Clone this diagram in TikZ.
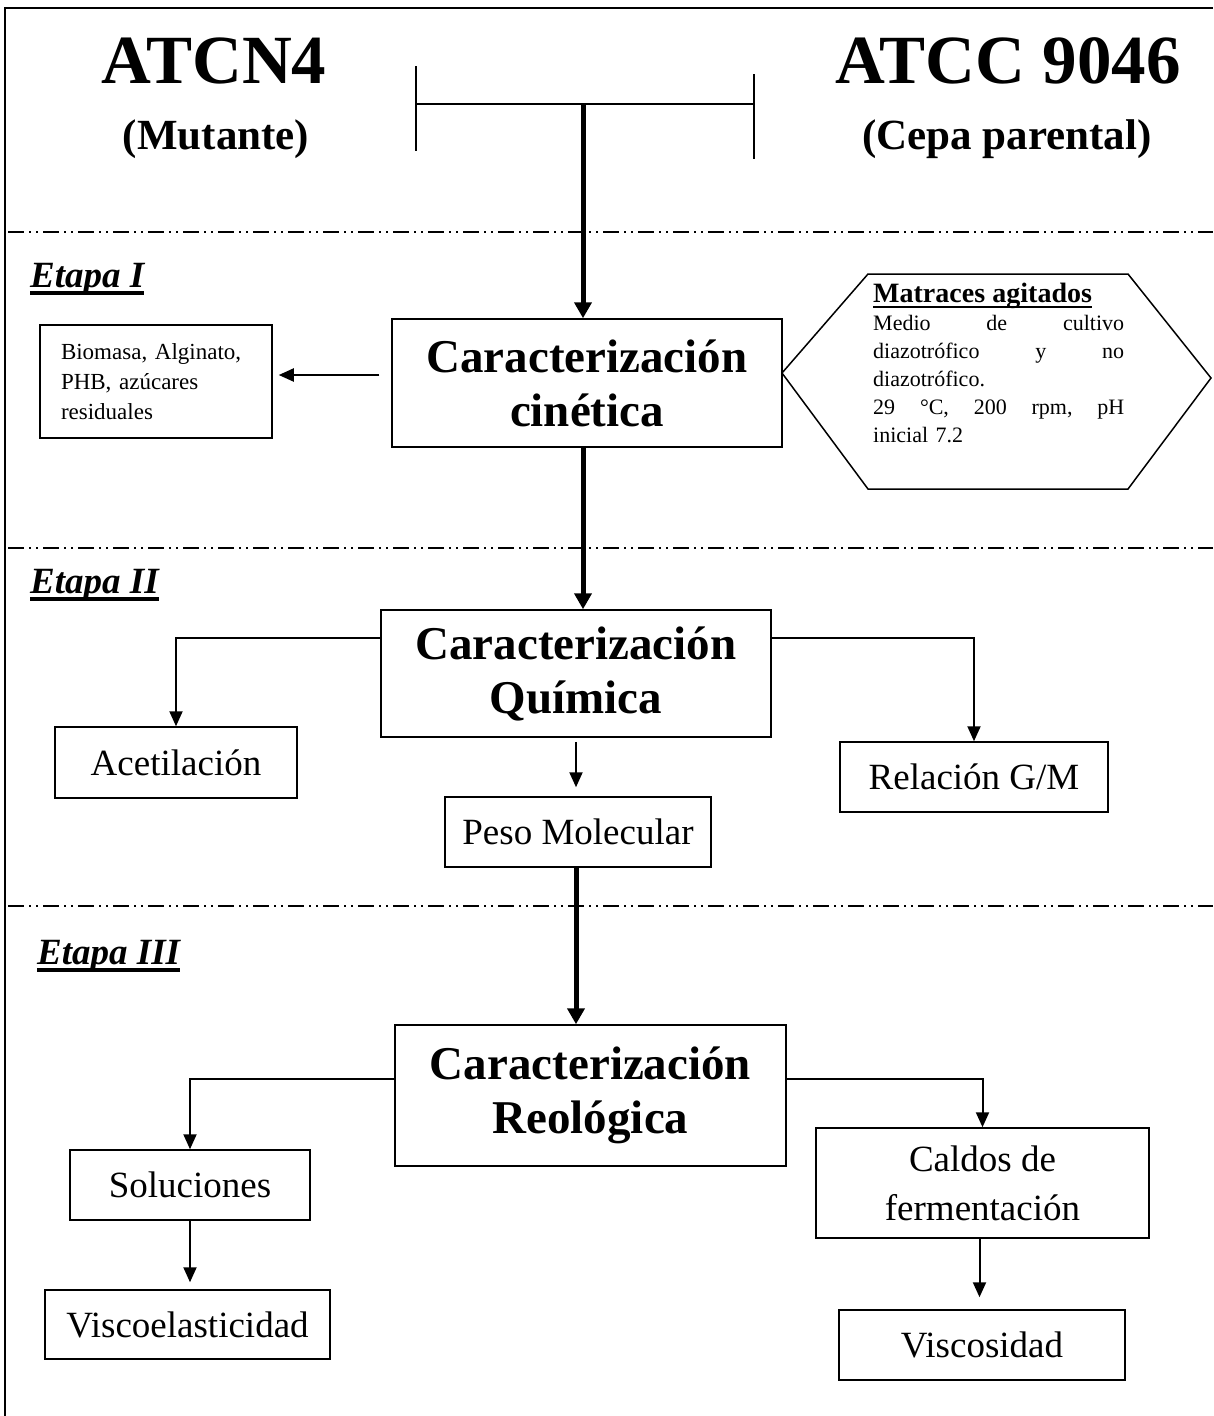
\documentclass[tikz,border=0pt]{standalone}
\usepackage{fontspec}
\setmainfont{Liberation Serif}
\usetikzlibrary{arrows.meta}
\newsavebox{\ulsave}
\newcommand{\ulword}[3]{\sbox\ulsave{#3}\rlap{\rule[-#1]{\wd\ulsave}{#2}}\usebox\ulsave}
\tikzset{
  box/.style={draw, line width=1.5pt, inner sep=0pt, align=center},
  boxTitle/.style={box, font=\fontsize{47}{54}\selectfont\bfseries},
  boxText/.style={box, font=\fontsize{37}{49}\selectfont},
  strain/.style={font=\fontsize{69}{69}\selectfont\bfseries, anchor=base},
  strainSub/.style={font=\fontsize{43}{43}\selectfont\bfseries, anchor=base},
  stage/.style={font=\fontsize{37}{37}\selectfont\bfseries\itshape, anchor=base west, inner sep=0pt},
  sepline/.style={line width=2pt, dash pattern=on 16pt off 5pt on 2pt off 5pt on 2pt off 5pt},
  thkarrow/.style={line width=5pt, -{Triangle[length=16pt,width=17pt]}},
  thnarrow/.style={line width=2pt, -{Triangle[length=15pt,width=13pt]}},
}
\begin{document}
\begin{tikzpicture}[x=1pt,y=-1pt]
\useasboundingbox (0,0) rectangle (1213,1416);

% frame and stage separators
\draw[line width=2pt] (5,1416) -- (5,8) -- (1213,8);
\foreach \yy in {232,548,906}
  \draw[sepline] (8,\yy) -- (1213,\yy);

% strains
\node[strain] (mut) at (214,83) {ATCN4};
\node[strainSub] at (216,149) {(Mutante)};
\node[strain] (par) at (1008,83) {ATCC 9046};
\node[strainSub] at (1007,149) {(Cepa parental)};

\draw[line width=1.5pt] (416,66) -- (416,151);
\draw[line width=1.5pt] (754,74) -- (754,159);
\draw[line width=1.5pt] (416,104) -- (754,104);
\coordinate (tjoin) at (583,104);

% stages
\node[stage] (e1) at (30,287) {\ulword{8pt}{4pt}{Etapa I}};
\node[stage] (e2) at (30,593) {\ulword{8pt}{4pt}{Etapa II}};
\node[stage] (e3) at (37,964) {\ulword{8pt}{4pt}{Etapa III}};

% ===== Etapa I =====
\node[boxTitle, minimum width=390pt, minimum height=128pt] (cin) at (587,383)
  {Caracterización\\cinética};
\node[box, minimum width=232pt, minimum height=113pt, text width=190pt, align=left,
      font=\fontsize{23}{30}\selectfont] (biom) at (156,381.5)
  {Biomasa, Alginato,\\PHB, azúcares\\residuales};

\draw[line width=1.5pt] (782,373) -- (868,274) -- (1128,274) -- (1211,378)
  -- (1128,489) -- (868,489) -- cycle;
\node[anchor=north west, inner sep=0pt, text width=251pt, align=left,
      font=\fontsize{22}{28}\selectfont] (cond) at (873,283)
  {{\fontsize{28}{26}\selectfont\bfseries\ulword{5pt}{2pt}{Matraces agitados}}\\
   Medio\hfill de\hfill cultivo\\
   diazotrófico\hfill y\hfill no\\
   diazotrófico.\\
   29\hfill °C,\hfill 200\hfill rpm,\hfill pH\\
   inicial 7.2};

\draw[thkarrow] (tjoin) -- (tjoin |- cin.north);
\draw[thnarrow, shorten <=12pt, shorten >=6pt] ([yshift=8pt]cin.west) -- ([yshift=8pt]cin.west -| biom.east);

% ===== Etapa II =====
\node[boxTitle, minimum width=390pt, minimum height=127pt] (quim) at (576,673.5)
  {Caracterización\\Química};
\node[boxText, minimum width=242pt, minimum height=71pt] (acet) at (176,762.5) {Acetilación};
\node[boxText, minimum width=268pt, minimum height=70pt] (relgm) at (974,777) {Relación G/M};
\node[boxText, minimum width=266pt, minimum height=70pt] (peso) at (578,832) {Peso Molecular};

\draw[thkarrow] (cin.south -| tjoin) -- (quim.north -| tjoin);
\draw[thnarrow] ([yshift=36pt]quim.west) -| (acet.north);
\draw[thnarrow] ([yshift=36pt]quim.east) -| (relgm.north);
\draw[thnarrow, shorten <=4pt, shorten >=9pt] (quim.south) -- (quim.south |- peso.north);

% ===== Etapa III =====
\node[boxTitle, minimum width=391pt, minimum height=141pt] (reo) at (590.5,1095.5)
  {Caracterización\\Reológica};
\node[boxText, minimum width=240pt, minimum height=70pt] (solu) at (190,1185) {Soluciones};
\node[boxText, minimum width=285pt, minimum height=69pt] (visco) at (187.5,1324.5) {Viscoelasticidad};
\node[boxText, minimum width=333pt, minimum height=110pt] (caldos) at (982.5,1183)
  {Caldos de\\fermentación};
\node[boxText, minimum width=286pt, minimum height=70pt] (viscos) at (982,1345) {Viscosidad};

\draw[thkarrow] (quim.south |- peso.south) -- (quim.south |- reo.north);
\draw[thnarrow] ([yshift=16.5pt]reo.west) -| (solu.north);
\draw[thnarrow] ([yshift=16.5pt]reo.east) -| (caldos.north);
\draw[thnarrow, shorten >=7pt] (solu.south) -- (solu.south |- visco.north);
\draw[thnarrow, shorten >=12pt] ([xshift=-3pt]caldos.south) -- ([xshift=-3pt]caldos.south |- viscos.north);
\end{tikzpicture}
\end{document}
